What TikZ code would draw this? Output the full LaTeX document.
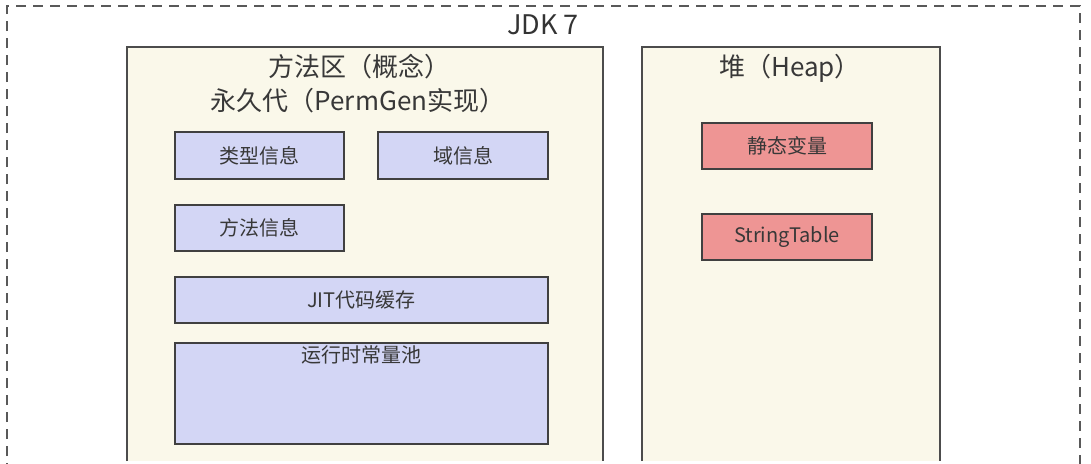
\documentclass[tikz,border=0pt]{standalone}
\usepackage{fontspec}
\setmainfont{Noto Sans CJK SC}
\begin{document}
\begin{tikzpicture}[x=1pt,y=-1pt,
  area/.style={draw=black!70, line width=1.6pt, fill=bgyellow},
  bluebox/.style={draw=black!75, line width=1.5pt, fill=boxblue, inner sep=0pt},
  redbox/.style={draw=black!75, line width=1.5pt, fill=boxred, inner sep=0pt},
  title/.style={font=\fontsize{26}{30}\selectfont, text=black!78},
  lbl/.style={font=\fontsize{20}{24}\selectfont, text=black!78}]
\definecolor{bgyellow}{HTML}{FAF8EA}
\definecolor{boxblue}{HTML}{D3D6F5}
\definecolor{boxred}{HTML}{EE9594}
\useasboundingbox (0,0) rectangle (1091,463);
\fill[white] (0,0) rectangle (1091,463);
% outer dashed frame
\draw[black!65, line width=1.5pt, dash pattern=on 10pt off 7pt] (7,490) -- (7,6) -- (1080,6) -- (1080,490);
\node[font=\fontsize{27}{30}\selectfont, text=black!80] (jdk) at (543,25) {JDK 7};
% method area
\draw[area] (127,461) -- (127,47) -- (603,47) -- (603,461);
\node[title] (t1) at (359,67) {方法区（概念）};
\node[title] (t2) at (358,101) {永久代（PermGen实现）};
\node[bluebox, minimum width=169pt, minimum height=47pt, lbl] (type) at (259.5,155.5) {类型信息};
\node[bluebox, minimum width=170pt, minimum height=47pt, lbl] (field) at (463,155.5) {域信息};
\node[bluebox, minimum width=169pt, minimum height=46pt, lbl] (method) at (259.5,228) {方法信息};
\node[bluebox, minimum width=373pt, minimum height=46pt, lbl] (jit) at (361.5,300) {JIT代码缓存};
\node[bluebox, minimum width=373pt, minimum height=101pt, anchor=north] (pool) at (361.5,342) {};
\node[lbl, anchor=north] (poollbl) at ([yshift=-0.5pt]pool.north) {运行时常量池};
% heap
\draw[area] (642,461) -- (642,47) -- (940,47) -- (940,461);
\node[title] (t3) at (790,68) {堆（Heap）};
\node[redbox, minimum width=170pt, minimum height=46pt, lbl] (static) at (787,146) {静态变量};
\node[redbox, minimum width=170pt, minimum height=46pt, lbl] (st) at (787,237) {StringTable};
\end{tikzpicture}
\end{document}
